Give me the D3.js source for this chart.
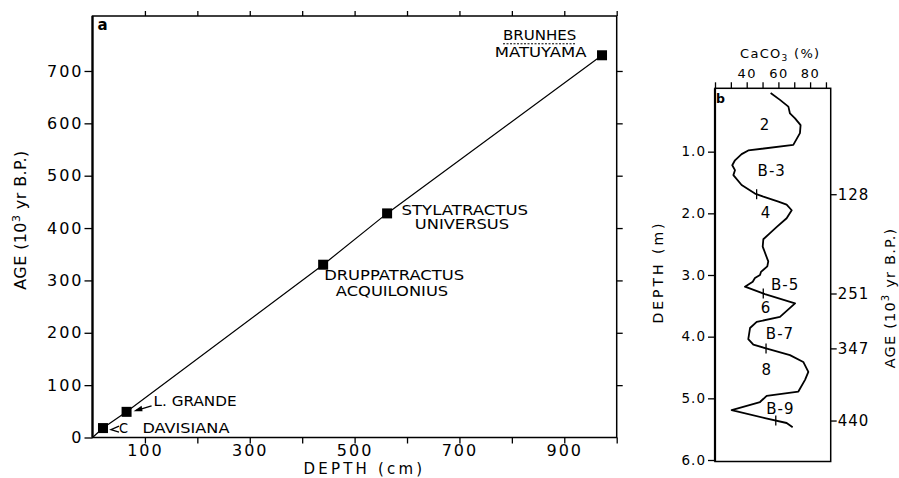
<!DOCTYPE html>
<html><head><meta charset="utf-8">
<script src="https://cdn.jsdelivr.net/npm/d3@7"></script>
<style>
body{margin:0;background:#fff}
svg{display:block}
text{font-family:"DejaVu Sans",sans-serif;fill:#000}
</style>
</head><body>
<svg id="c" width="899" height="478"></svg>
<script>
// ---------- Panel a data ----------
const datumNames = ["C DAVISIANA", "L. GRANDE", "DRUPPATRACTUS ACQUILONIUS", "STYLATRACTUS UNIVERSUS", "BRUNHES MATUYAMA"];
const datumDepth = [20, 65, 440, 562, 972];   // cm
const datumAge   = [18, 49, 330, 428, 730];   // 10^3 yr B.P.
const lineStart  = [0, 0];
const depthTicksA = [100, 200, 300, 400, 500, 600, 700, 800, 900, 1000];
const depthLabelsA = [100, 300, 500, 700, 900];
const ageTicksA = [0, 100, 200, 300, 400, 500, 600, 700];

// ---------- Panel b data ----------
const coreDepth = [0.05,0.16,0.27,0.38,0.46,0.57,0.70,0.89,0.98,1.04,1.14,1.22,1.30,1.38,1.54,1.68,1.73,1.81,1.86,1.95,2.08,2.22,2.32,2.42,2.54,2.78,2.86,2.95,3.00,3.05,3.11,3.19,3.31,3.46,3.68,3.76,3.86,4.04,4.13,4.19,4.30,4.41,4.57,4.70,4.89,4.96,5.06,5.19,5.32,5.40,5.47];
const caco3     = [55.1,61,66.3,67.3,70.5,74,73.6,69.4,41,36.8,32.6,30.9,32.6,31.6,36.8,45.2,50.5,60,65.2,68.4,65.2,59,54.7,50.5,50.1,53.6,53,49,48.4,45.2,43.8,38.9,51.5,70.5,61,46.3,42.1,41,44.2,52.2,67.3,75.7,78.9,76.8,72.6,52.6,48.4,30.5,51.5,65.2,69];
const caco3Ticks = [20, 30, 40, 50, 60, 70, 80, 90];
const caco3Labels = [40, 60, 80];
const depthTicksB = [1, 2, 3, 4, 5, 6];
const stageNames = ["2", "B-3", "4", "B-5", "6", "B-7", "8", "B-9"];
const stagePct   = [51.5, 55.8, 52.2, 64.2, 52.2, 61, 52.6, 61.2];
const stageDepth = [0.65, 1.39, 2.08, 3.24, 3.62, 4.04, 4.62, 5.25];
const ageLabelsB = [128, 251, 347, 440];
const ageDepthB  = [1.69, 3.30, 4.19, 5.36];

const svg = d3.select("#c");

// ================= PANEL A =================
const xA = d3.scaleLinear().domain([0, 1000]).range([92.5, 616.7]);
const yA = d3.scaleLinear().domain([0, 805]).range([437.5, 16]);

function styleAxis(g, size, ls) {
  g.select(".domain").remove();
  g.selectAll("line").attr("stroke", "#000").attr("stroke-width", 1.3);
  g.selectAll("text").attr("font-family", "DejaVu Sans, sans-serif")
    .attr("font-size", size).attr("fill", "#000").style("letter-spacing", ls + "px");
}

svg.append("g").attr("transform", `translate(0,${yA(0)})`)
  .call(d3.axisBottom(xA).tickValues(depthTicksA).tickSize(6).tickPadding(1.5)
    .tickFormat(d => depthLabelsA.includes(d) ? d : ""))
  .call(g => styleAxis(g, 16, 2));
svg.append("g").attr("transform", `translate(0,${yA.range()[1]})`)
  .call(d3.axisTop(xA).tickValues(depthTicksA).tickSize(5).tickFormat(""))
  .call(g => styleAxis(g, 16, 0));
svg.append("g").attr("transform", `translate(${xA(0)},0)`)
  .call(d3.axisLeft(yA).tickValues(ageTicksA).tickSize(8).tickPadding(1))
  .call(g => styleAxis(g, 16, 2));
svg.append("g").attr("transform", `translate(${xA(1000)},0)`)
  .call(d3.axisRight(yA).tickValues(ageTicksA.filter(d => d > 0)).tickSize(6).tickFormat(""))
  .call(g => styleAxis(g, 16, 0));

// frame
svg.append("rect").attr("x", xA(0)).attr("y", yA.range()[1])
  .attr("width", xA(1000) - xA(0)).attr("height", yA(0) - yA.range()[1])
  .attr("fill", "none").attr("stroke", "#000").attr("stroke-width", 1.5);
svg.append("line").attr("x1", xA(0)).attr("x2", xA(0)).attr("y1", yA.range()[1]).attr("y2", yA(0))
  .attr("stroke", "#000").attr("stroke-width", 2.2);

// line through datums
const ptsA = [lineStart].concat(datumDepth.map((d, i) => [d, datumAge[i]]));
svg.append("path").datum(ptsA)
  .attr("d", d3.line().x(d => xA(d[0])).y(d => yA(d[1])))
  .attr("fill", "none").attr("stroke", "#000").attr("stroke-width", 1.2);

// squares
svg.selectAll("rect.sq").data(datumDepth).join("rect").attr("class", "sq")
  .attr("x", (d) => xA(d) - 5).attr("y", (d, i) => yA(datumAge[i]) - 5)
  .attr("width", 10).attr("height", 10).attr("fill", "#000");

// labels
function lab(txt, x, y, len, size) {
  svg.append("text").attr("x", x).attr("y", y).attr("font-size", size || 14)
    .attr("textLength", len).attr("lengthAdjust", "spacingAndGlyphs").text(txt);
}
const pC = [xA(datumDepth[0]), yA(datumAge[0])];
const pL = [xA(datumDepth[1]), yA(datumAge[1])];
const pD = [xA(datumDepth[2]), yA(datumAge[2])];
const pS = [xA(datumDepth[3]), yA(datumAge[3])];
const pB = [xA(datumDepth[4]), yA(datumAge[4])];
const names = datumNames.map(n => n.split(" "));

// C DAVISIANA
lab(names[0][0], pC[0] + 16, pC[1] + 5, 9, 14);
lab(names[0][1], pC[0] + 39.5, pC[1] + 5, 87, 14);
svg.append("path").attr("d", `M${pC[0]+16},${pC[1]-2} L${pC[0]+8},${pC[1]+1.5} L${pC[0]+16},${pC[1]+4}`)
  .attr("fill", "none").attr("stroke", "#000").attr("stroke-width", 1.3);
// L. GRANDE
lab(datumNames[1], pL[0] + 27, pL[1] - 6, 83, 14);
svg.append("line").attr("x1", pL[0] + 25).attr("y1", pL[1] - 6).attr("x2", pL[0] + 10).attr("y2", pL[1] - 1.5)
  .attr("stroke", "#000").attr("stroke-width", 1.3);
svg.append("path").attr("d", `M${pL[0]+7},${pL[1]-0.5} L${pL[0]+15},${pL[1]-6} L${pL[0]+16},${pL[1]-0.5} Z`).attr("fill", "#000");
// DRUPPATRACTUS
lab(names[2][0], pD[0] + 1, pD[1] + 15.7, 140, 14);
lab(names[2][1], pD[0] + 12.7, pD[1] + 31.4, 112.3, 14);
// STYLATRACTUS
lab(names[3][0], pS[0] + 14.4, pS[1] + 1.7, 126.6, 14);
lab(names[3][1], pS[0] + 27.7, pS[1] + 16, 94.3, 14);
// BRUNHES / MATUYAMA
lab(names[4][0], pB[0] - 99, pB[1] - 15.7, 73.4, 14);
svg.append("line").attr("x1", pB[0] - 99).attr("x2", pB[0] - 25.6)
  .attr("y1", pB[1] - 11.5).attr("y2", pB[1] - 11.5)
  .attr("stroke", "#000").attr("stroke-width", 1).attr("stroke-dasharray", "2,1.5");
lab(names[4][1], pB[0] - 107.3, pB[1] + 1.7, 91.7, 14);

// panel label a
svg.append("text").attr("x", 97.5).attr("y", 30).attr("font-size", 15).attr("font-weight", "bold").text("a");

// axis titles
svg.append("text").attr("x", 364.5).attr("y", 474.3).attr("text-anchor", "middle")
  .attr("font-size", 15).style("letter-spacing", "3.2px").text("DEPTH (cm)");
const tA = svg.append("text").attr("transform", "translate(26,220) rotate(-90)")
  .attr("text-anchor", "middle").attr("font-size", 16).style("letter-spacing", "0.4px");
tA.append("tspan").text("AGE (10");
tA.append("tspan").attr("dy", -6).attr("font-size", 11).text("3");
tA.append("tspan").attr("dy", 6).text(" yr B.P.)");

// ================= PANEL B =================
const xB = d3.scaleLinear().domain([20, 93]).range([715, 830.7]);
const yB = d3.scaleLinear().domain([0, 6]).range([90, 460]);
const topB = 88.3, botB = 461.5;

svg.append("g").attr("transform", `translate(0,${topB})`)
  .call(d3.axisTop(xB).tickValues(caco3Ticks).tickSize(6).tickPadding(4)
    .tickFormat(d => caco3Labels.includes(d) ? d : ""))
  .call(g => styleAxis(g, 13, 1.5));
svg.append("g").attr("transform", `translate(${xB(20)},0)`)
  .call(d3.axisLeft(yB).tickValues(depthTicksB).tickSize(7).tickPadding(2).tickFormat(d3.format(".1f")))
  .call(g => styleAxis(g, 13.5, 1));
svg.append("g").attr("transform", `translate(${xB(93)},0)`)
  .call(d3.axisRight(d3.scaleLinear().domain(yB.domain()).range(yB.range()))
    .tickValues(ageDepthB).tickSize(6).tickPadding(1).tickFormat((d, i) => ageLabelsB[i]))
  .call(g => styleAxis(g, 15, 1));

svg.append("rect").attr("x", xB(20)).attr("y", topB).attr("width", xB(93) - xB(20)).attr("height", botB - topB)
  .attr("fill", "none").attr("stroke", "#000").attr("stroke-width", 1.5);
svg.append("line").attr("x1", xB(20)).attr("x2", xB(20)).attr("y1", topB).attr("y2", botB)
  .attr("stroke", "#000").attr("stroke-width", 2.2);

// curve
const ptsB = coreDepth.map((d, i) => [caco3[i], d]);
svg.append("path").datum(ptsB)
  .attr("d", d3.line().x(d => xB(d[0])).y(d => yB(d[1])))
  .attr("fill", "none").attr("stroke", "#000").attr("stroke-width", 1.8).attr("stroke-linejoin", "round");

// age crosses on curve
const bis = d3.bisector(d => d).left;
ageDepthB.forEach(dp => {
  const j = Math.max(1, bis(coreDepth, dp));
  const t = (dp - coreDepth[j - 1]) / (coreDepth[j] - coreDepth[j - 1]);
  const v = caco3[j - 1] + t * (caco3[j] - caco3[j - 1]);
  svg.append("line").attr("x1", xB(v)).attr("x2", xB(v)).attr("y1", yB(dp) - 5).attr("y2", yB(dp) + 5)
    .attr("stroke", "#000").attr("stroke-width", 1.3);
});

// stage labels
svg.selectAll("text.st").data(stageNames).join("text").attr("class", "st")
  .attr("x", (d, i) => xB(stagePct[i])).attr("y", (d, i) => yB(stageDepth[i]))
  .attr("text-anchor", "middle").attr("font-size", 15).style("letter-spacing", "1px").text(d => d);

svg.append("text").attr("x", 716).attr("y", 103).attr("font-size", 12.5).attr("font-weight", "bold").text("b");

// titles
const tC = svg.append("text").attr("x", 740).attr("y", 58).attr("font-size", 13).style("letter-spacing", "1.3px");
tC.append("tspan").text("CaCO");
tC.append("tspan").attr("dy", 3).attr("font-size", 9).text("3");
tC.append("tspan").attr("dy", -3).text(" (%)");

svg.append("text").attr("transform", "translate(663,272) rotate(-90)").attr("text-anchor", "middle")
  .attr("font-size", 14).style("letter-spacing", "3px").text("DEPTH (m)");

const tB = svg.append("text").attr("transform", "translate(895,298) rotate(-90)")
  .attr("text-anchor", "middle").attr("font-size", 14.5).style("letter-spacing", "1.2px");
tB.append("tspan").text("AGE (10");
tB.append("tspan").attr("dy", -6).attr("font-size", 10).text("3");
tB.append("tspan").attr("dy", 6).text(" yr B.P.)");
</script>
</body></html>
